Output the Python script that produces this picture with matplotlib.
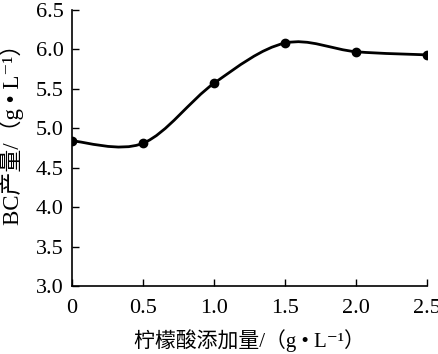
import numpy as np
import matplotlib
matplotlib.use('Agg')
import matplotlib.pyplot as plt
from matplotlib.path import Path
from matplotlib.patches import PathPatch

# data
citric_acid = [0, 0.5, 1.0, 1.5, 2.0, 2.5]
bc_yield = [4.84, 4.81, 5.57, 6.08, 5.97, 5.93]
xticks = [0, 0.5, 1.0, 1.5, 2.0, 2.5]
xtick_labels = ['0', '0.5', '1.0', '1.5', '2.0', '2.5']
yticks = [3.0, 3.5, 4.0, 4.5, 5.0, 5.5, 6.0, 6.5]

fam = ['Liberation Serif', 'Noto Sans CJK SC', 'DejaVu Serif']
plt.rcParams['font.family'] = fam


def smooth_path(x, y, t=1/6):
    # catmull-rom style bezier through the points (like excel smoothed line)
    x = np.asarray(x, float)
    y = np.asarray(y, float)
    n = len(x)
    verts = [(x[0], y[0])]
    codes = [Path.MOVETO]
    for i in range(n - 1):
        p0 = i - 1 if i > 0 else i
        p3 = i + 2 if i + 2 < n else i + 1
        c1 = (x[i] + (x[i+1] - x[p0]) * t, y[i] + (y[i+1] - y[p0]) * t)
        c2 = (x[i+1] - (x[p3] - x[i]) * t, y[i+1] - (y[p3] - y[i]) * t)
        verts += [c1, c2, (x[i+1], y[i+1])]
        codes += [Path.CURVE4] * 3
    return Path(verts, codes)


fig = plt.figure(figsize=(4.39, 3.54), dpi=100)
ax = fig.add_axes([0.164, 0.192, 0.809, 0.78])

patch = PathPatch(smooth_path(citric_acid, bc_yield), fill=False, lw=2, color='black')
ax.add_patch(patch)
ax.plot(citric_acid, bc_yield, 'o', color='black', ms=6)

ax.set_xlim(0, 2.5)
ax.set_ylim(3.0, 6.5)
ax.set_xticks(xticks)
ax.set_xticklabels(xtick_labels)
ax.set_yticks(yticks)
ax.set_yticklabels(['%.1f' % v for v in yticks])
ax.tick_params(direction='in', length=5, width=1, labelsize=16, pad=6)
ax.tick_params(axis='x', pad=9)
for s in ['top', 'right']:
    ax.spines[s].set_visible(False)
for s in ['left', 'bottom']:
    ax.spines[s].set_linewidth(1.2)

ax.set_xlabel('柠檬酸添加量/（g • L⁻¹）', fontsize=15)
ax.set_ylabel('BC产量/（g • L⁻¹）', fontsize=16.5)
ax.xaxis.set_label_coords(0.5, -0.155)
ax.yaxis.set_label_coords(-0.135, 0.57)

fig.savefig('out.png', dpi=100)
